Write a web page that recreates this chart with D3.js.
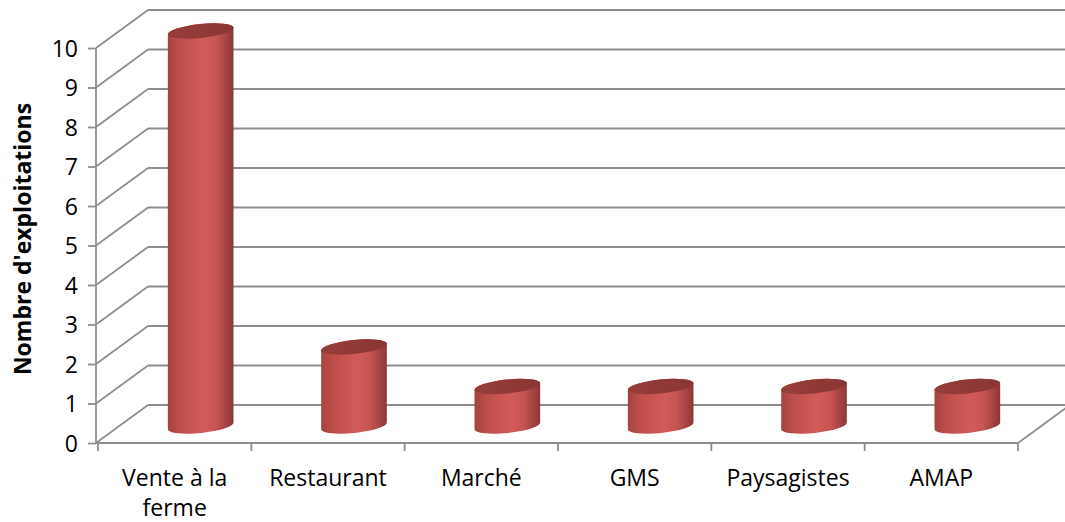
<!DOCTYPE html>
<html>
<head>
<meta charset="utf-8">
<script src="https://cdn.jsdelivr.net/npm/d3@7"></script>
<style>
  body { margin: 0; background: #fff; }
  text { font-family: "Open Sans", "Liberation Sans", sans-serif; fill: #000; }
</style>
</head>
<body>
<div id="vis"></div>
<script>
const WIDTH = 1065;
const HEIGHT = 522;

// data
const categories = ["Vente à la ferme", "Restaurant", "Marché", "GMS", "Paysagistes", "AMAP"];
const values = [10, 2, 1, 1, 1, 1];
const yTicks = [0, 1, 2, 3, 4, 5, 6, 7, 8, 9, 10];
const yTitle = "Nombre d'exploitations";

// 3d depth of the plot box
const DX = 52, DY = -38;
const GRID = "#8e8e8e";

const svg = d3.select("#vis").append("svg")
    .attr("width", WIDTH)
    .attr("height", HEIGHT);

const x = d3.scaleBand().domain(categories).range([98, 1018]).padding(0);
const y = d3.scaleLinear().domain([0, 10]).range([443, 48]);

// gradient for the cylinders
const defs = svg.append("defs");
const grad = defs.append("linearGradient").attr("id", "cyl")
    .attr("x1", "0%").attr("x2", "100%").attr("y1", "0%").attr("y2", "0%");
[["0%", "#a54341"], ["20%", "#bf4f4c"], ["55%", "#d25b58"], ["75%", "#c65452"], ["100%", "#8c3735"]]
  .forEach(s => grad.append("stop").attr("offset", s[0]).attr("stop-color", s[1]));
const gradTop = defs.append("linearGradient").attr("id", "cylTop")
    .attr("x1", "0%").attr("x2", "100%").attr("y1", "0%").attr("y2", "0%");
[["0%", "#963d3b"], ["100%", "#8a3634"]]
  .forEach(s => gradTop.append("stop").attr("offset", s[0]).attr("stop-color", s[1]));

// back wall gridlines
const grid = svg.append("g").attr("stroke", GRID).attr("stroke-width", 1.8).attr("fill", "none");
grid.selectAll(".back").data(yTicks).join("line")
    .attr("x1", 96 + DX).attr("x2", v => v === 0 ? 1018 + DX : WIDTH)
    .attr("y1", v => y(v) + DY).attr("y2", v => y(v) + DY);
// side wall diagonals
grid.selectAll(".side").data(yTicks).join("line")
    .attr("x1", 96).attr("y1", v => y(v))
    .attr("x2", 96 + DX).attr("y2", v => y(v) + DY);
// right floor edge
grid.append("line").attr("x1", 1018).attr("y1", y(0)).attr("x2", 1018 + DX).attr("y2", y(0) + DY);

// y axis
const yAxis = svg.append("g").attr("transform", "translate(96,0)")
    .call(d3.axisLeft(y).tickValues(yTicks).tickSize(8).tickPadding(10).tickFormat(d3.format("d")));
yAxis.select(".domain").attr("stroke", GRID).attr("stroke-width", 1.8).attr("d", `M0,${y(10)}V${y(0)}`);
yAxis.selectAll(".tick line").attr("stroke", GRID).attr("stroke-width", 1.8);
yAxis.selectAll(".tick text").style("font-size", "23px").attr("font-family", null).attr("dy", "0.36em");

// x axis (floor front edge + tick marks)
const xAxis = svg.append("g").attr("transform", `translate(0,${y(0)})`);
xAxis.append("line").attr("x1", 96).attr("x2", 1018).attr("y1", 0).attr("y2", 0)
    .attr("stroke", GRID).attr("stroke-width", 1.8);
xAxis.selectAll(".xt").data(d3.range(categories.length + 1)).join("line")
    .attr("x1", i => 98 + i * x.bandwidth()).attr("x2", i => 98 + i * x.bandwidth())
    .attr("y1", 0).attr("y2", 8)
    .attr("stroke", GRID).attr("stroke-width", 1.8);

// category labels, wrapped into the band width
const labels = svg.append("g").selectAll("text").data(categories).join("text")
    .attr("text-anchor", "middle")
    .style("font-size", "23px")
    .attr("x", d => x(d) + x.bandwidth() / 2)
    .attr("y", 486);
labels.each(function(d) {
  const t = d3.select(this);
  const words = d.split(" ");
  let lines = [], cur = [];
  words.forEach(w => {
    const test = cur.concat([w]).join(" ");
    if (test.length > 11 && cur.length) { lines.push(cur.join(" ")); cur = [w]; }
    else cur.push(w);
  });
  lines.push(cur.join(" "));
  lines.forEach((l, i) => t.append("tspan").attr("x", t.attr("x")).attr("dy", i ? 30 : 0).text(l));
});

// y title
svg.append("text")
    .attr("transform", "translate(31,239) rotate(-90)")
    .attr("text-anchor", "middle")
    .style("font-size", "23px").style("font-weight", "bold")
    .text(yTitle);

// cylinders
const RX = 33, RY = 7, ROT = -6;
const rad = ROT * Math.PI / 180;
const cx = d => x(d) + x.bandwidth() / 2 + DX / 2;
const off = dd => y(0) + DY / 2 + 2; // base centre y
function bodyPath(c, yb, yt) {
  const ex = RX * Math.cos(rad), ey = RX * Math.sin(rad);
  return `M${c - ex},${yb - ey}` +
    `A${RX},${RY} ${ROT} 0 0 ${c + ex},${yb + ey}` +
    `L${c + ex},${yt + ey}` +
    `A${RX},${RY} ${ROT} 0 0 ${c - ex},${yt - ey}Z`;
}
const bars = svg.append("g").selectAll("g").data(categories).join("g");
bars.append("path")
    .attr("fill", "url(#cyl)")
    .attr("d", (d, i) => {
      const yb = off(d);
      const yt = yb - (y(0) - y(values[i]));
      return bodyPath(cx(d), yb, yt);
    });
bars.append("ellipse")
    .attr("fill", "url(#cylTop)")
    .attr("rx", RX).attr("ry", RY)
    .attr("transform", (d, i) => {
      const yt = off(d) - (y(0) - y(values[i]));
      return `translate(${cx(d)},${yt}) rotate(${ROT})`;
    });
</script>
</body>
</html>
